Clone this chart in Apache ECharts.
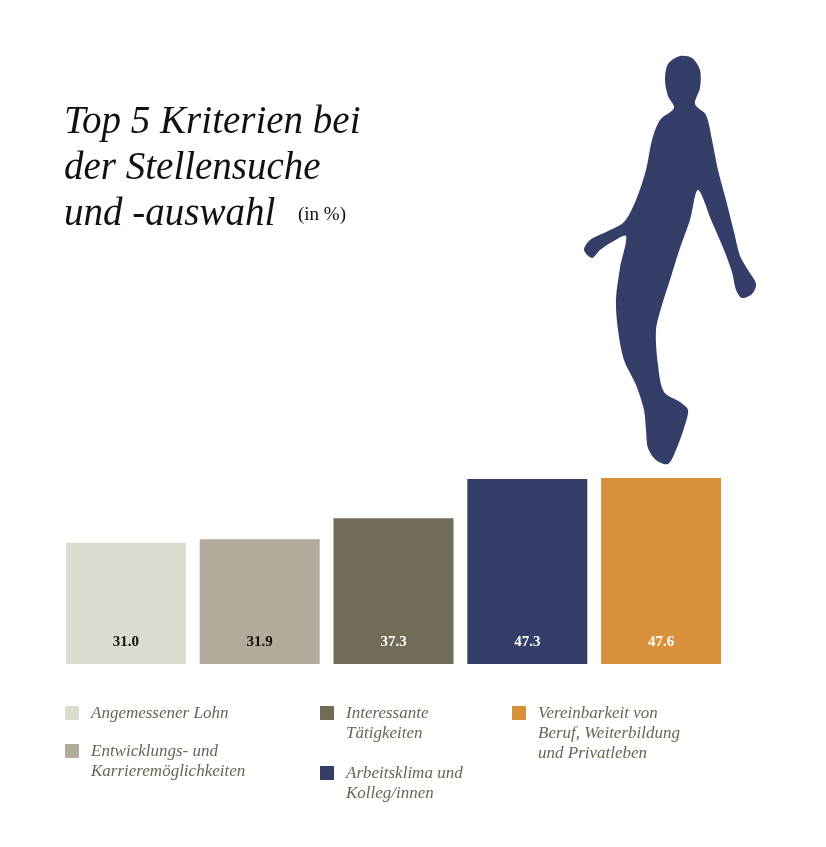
<!DOCTYPE html>
<html><head><meta charset="utf-8">
<script src="https://cdn.jsdelivr.net/npm/echarts@6/dist/echarts.min.js"></script>
<style>html,body{margin:0;background:#fff}#c{width:826px;height:847px}</style>
</head><body><div id="c"></div>
<script>
const categories = ['Angemessener Lohn','Entwicklungs- und\nKarrieremöglichkeiten','Interessante\nTätigkeiten','Arbeitsklima und\nKolleg/innen','Vereinbarkeit von\nBeruf, Weiterbildung\nund Privatleben'];
const values = [31.0, 31.9, 37.3, 47.3, 47.6];
const labels = ['31.0','31.9','37.3','47.3','47.6'];
const colors = ['#dddad0','#b2aa9a','#726b58','#343e69','#d8913b'];
const labelColors = ['#111','#111','#fff','#fff','#fff'];
const legendPos = [[65,704],[65,742],[320,704],[320,764],[512,704]];

const chart = echarts.init(document.getElementById('c'));
const silhouette = [[680,56],[692,58],[700,70],[700,88],[695,104],[706,115],[712,140],[718,170],[726,200],[734,232],[740,256],[748,270],[756,284],[752,294],[742,298],[736,290],[732,272],[724,250],[712,222],[698,190],[690,220],[680,248],[670,280],[662,305],[656,330],[658,365],[664,392],[680,402],[688,410],[684,428],[676,450],[668,464],[656,460],[648,448],[646,430],[644,410],[636,385],[624,360],[618,330],[616,300],[620,268],[626,236],[612,242],[600,250],[592,258],[584,250],[590,240],[606,232],[624,222],[636,200],[646,170],[652,140],[660,120],[674,108],[668,96],[665,80],[668,64]];
const graphic = [
  {type:'text', x:64, y:100, style:{text:'Top 5 Kriterien bei\nder Stellensuche\nund -auswahl', font:'italic 39px "Liberation Serif"', lineHeight:46, fill:'#111'}},
  {type:'text', x:298, y:206, style:{text:'(in %)', font:'19px "Liberation Serif"', fill:'#111'}},
  {type:'polygon', shape:{points:silhouette, smooth:0.3}, style:{fill:'#343e69'}}
];
categories.forEach((c,i)=>{
  graphic.push({type:'rect', shape:{x:legendPos[i][0], y:legendPos[i][1]+2, width:14, height:14}, style:{fill:colors[i]}});
  graphic.push({type:'text', x:legendPos[i][0]+26, y:legendPos[i][1], style:{text:c, font:'italic 17px "Liberation Serif"', lineHeight:20, fill:'#6b6455'}});
});
chart.setOption({
  animation:false,
  grid:{left:59, right:98, top:273, bottom:183},
  xAxis:{type:'category', data:categories, show:false},
  yAxis:{type:'value', min:0, max:100, show:false},
  series:[{type:'bar', barWidth:120,
    data: values.map((v,i)=>({value:v, itemStyle:{color:colors[i]}, label:{color:labelColors[i], formatter:labels[i]}})),
    label:{show:true, position:'insideBottom', distance:14, fontFamily:'Liberation Serif', fontWeight:'bold', fontSize:15}
  }],
  graphic
});
</script></body></html>
